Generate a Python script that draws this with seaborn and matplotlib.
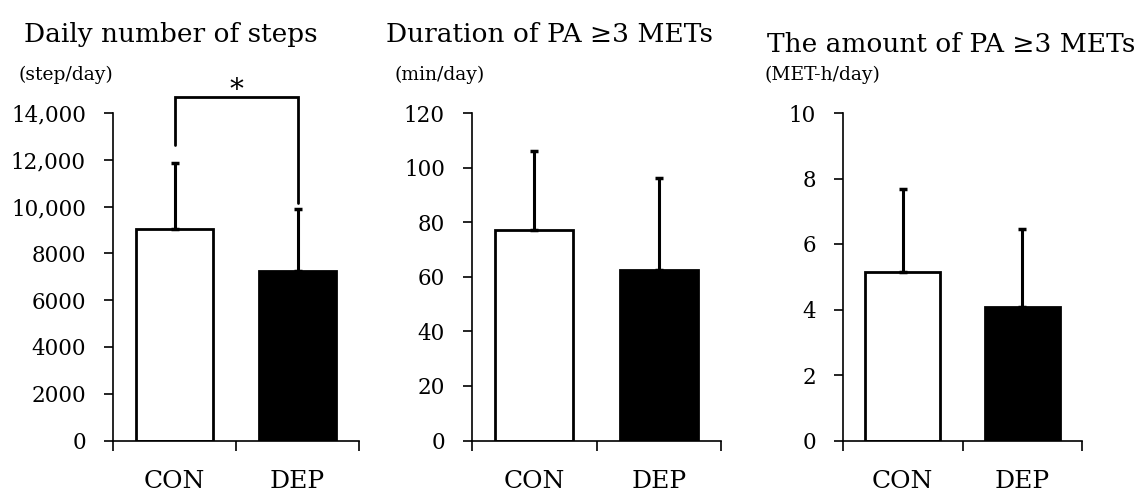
import numpy as np
import pandas as pd
import seaborn as sns
import matplotlib.pyplot as plt

groups = ["CON", "DEP"]

steps_mean = [9030, 7240]
steps_sd = [2830, 2650]
steps_ticks = [0, 2000, 4000, 6000, 8000, 10000, 12000, 14000]
steps_labels = ["0", "2000", "4000", "6000", "8000", "10,000", "12,000", "14,000"]

duration_mean = [77.0, 62.6]
duration_sd = [29.0, 33.6]
duration_ticks = [0, 20, 40, 60, 80, 100, 120]

amount_mean = [5.14, 4.09]
amount_sd = [2.55, 2.38]
amount_ticks = [0, 2, 4, 6, 8, 10]

titles = ["Daily number of steps", "Duration of PA \u22653 METs", "The amount of PA \u22653 METs"]
units = ["(step/day)", "(min/day)", "(MET-h/day)"]

sns.set_style("ticks")
plt.rcParams["font.family"] = ["DejaVu Serif"]
plt.rcParams["axes.linewidth"] = 1.2
plt.rcParams["text.color"] = "black"
plt.rcParams["xtick.color"] = "black"
plt.rcParams["ytick.color"] = "black"
plt.rcParams["xtick.labelcolor"] = "black"
plt.rcParams["ytick.labelcolor"] = "black"
plt.rcParams["axes.edgecolor"] = "black"

W, H = 1141, 491
fig = plt.figure(figsize=(W / 100, H / 100), dpi=100)


def px_rect(x0, x1, y_top, y_bot):
    return [x0 / W, 1 - y_bot / H, (x1 - x0) / W, (y_bot - y_top) / H]


def draw_panel(ax, means, sds, ticks, labels=None):
    df = pd.DataFrame({"group": groups, "value": means})
    sns.barplot(data=df, x="group", y="value", hue="group",
                palette=["white", "black"], edgecolor="black", linewidth=2,
                width=0.63, legend=False, ax=ax, zorder=2)
    ax.errorbar([0, 1], means, yerr=[[0, 0], sds], fmt="none", ecolor="black",
                elinewidth=2.2, capsize=3, capthick=2.5, zorder=3)
    ax.set_xlim(-0.5, 1.5)
    ax.set_ylim(ticks[0], ticks[-1])
    ax.set_yticks(ticks)
    if labels is not None:
        ax.set_yticklabels(labels)
    ax.set_xlabel("")
    ax.set_ylabel("")
    ax.set_xticks([-0.5, 0.5, 1.5], minor=True)
    ax.tick_params(axis="x", which="major", length=0, pad=21, labelsize=18)
    ax.tick_params(axis="x", which="minor", length=7, width=1.2, direction="out")
    ax.tick_params(axis="y", length=6.5, width=1.2, pad=13, labelsize=15.5)
    sns.despine(ax=ax)


ax1 = fig.add_axes(px_rect(113, 359, 113, 440.5))
ax2 = fig.add_axes(px_rect(472, 721, 113, 440.5))
ax3 = fig.add_axes(px_rect(843, 1082, 113, 440.5))

draw_panel(ax1, steps_mean, steps_sd, steps_ticks, steps_labels)
draw_panel(ax2, duration_mean, duration_sd, duration_ticks)
draw_panel(ax3, amount_mean, amount_sd, amount_ticks)

# significance bracket between groups
ax1.plot([0, 0, 1, 1], [12630, 14690, 14690, 10150], color="black", lw=2,
         clip_on=False, solid_joinstyle="miter")
ax1.text(0.5, 14650, "*", ha="center", va="baseline", fontsize=20)

# panel titles and units
title_pos = [(24, 42), (386, 42), (767, 52)]
unit_pos = [(18, 80), (395, 80), (765, 80)]
for t, (x, y) in zip(titles, title_pos):
    fig.text(x / W, 1 - y / H, t, fontsize=19, ha="left", va="baseline")
for u, (x, y) in zip(units, unit_pos):
    fig.text(x / W, 1 - y / H, u, fontsize=13.5, ha="left", va="baseline")

fig.savefig("out.png", dpi=100)
